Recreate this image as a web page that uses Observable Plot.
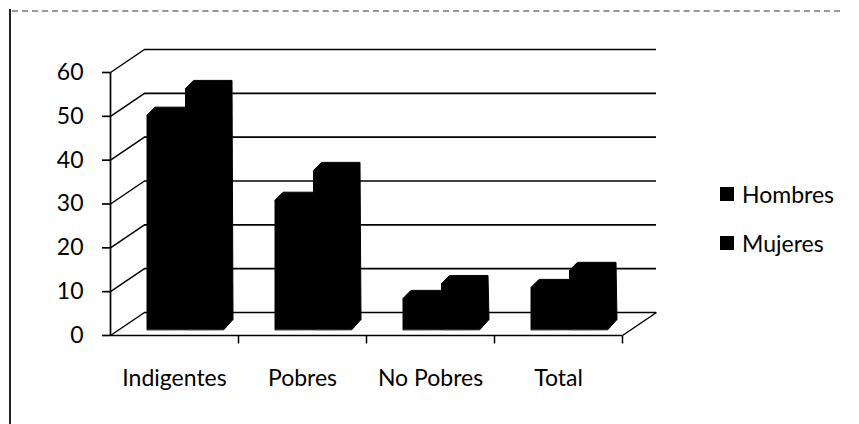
<!DOCTYPE html>
<html>
<head>
<meta charset="utf-8">
<script src="https://cdn.jsdelivr.net/npm/d3@7"></script>
<script src="https://cdn.jsdelivr.net/npm/@observablehq/plot@0.6"></script>
<style>
  body { margin: 0; background: #fff; }
  #wrap { position: relative; width: 859px; height: 424px; overflow: hidden; font-family: Lato, "Open Sans", sans-serif; }
  #leftBorder { position: absolute; left: 9px; top: 9px; width: 2px; height: 415px; background: #222; }
  #topBorder { position: absolute; left: 12px; top: 10px; width: 828px; height: 0; border-top: 2px dashed #444; opacity: 0.55; }
  .leg { position: absolute; left: 720px; display: flex; align-items: center; font-size: 23px; color: #000; }
  .leg span.sw { display: inline-block; width: 14px; height: 14px; background: #000; margin-right: 8px; }
</style>
</head>
<body>
<div id="wrap">
  <div id="chart"></div>
  <div id="leftBorder"></div>
  <div id="topBorder"></div>
  <div id="legend"></div>
</div>
<script>
// ---- data ----
const categories = ["Indigentes", "Pobres", "No Pobres", "Total"];
const seriesNames = ["Hombres", "Mujeres"];
const hombres = [48.9, 29.5, 7.1, 9.6];
const mujeres = [55.0, 36.3, 10.5, 13.5];
const yTicks = [0, 10, 20, 30, 40, 50, 60];

// ---- geometry (pixels converted into data units) ----
const catPx = 128;                 // pixels per category
const unitPx = (335 - 72) / 60;    // pixels per value unit
const ux = px => px / catPx;
const uy = px => px / unitPx;

const backDX = ux(34), backDY = uy(23);       // back wall offset
const barLeft = ux(36.5), barW = ux(38.5);     // bar front face
const barBase = uy(6);                         // bar front bottom above floor front
const topDX = ux(8), topDY = uy(8);            // top face depth
const botDX = ux(9), botDY = uy(10);           // bottom-right depth
const tickLen = uy(8);

const bars = [];
[hombres, mujeres].forEach((vals, s) => {
  vals.forEach((v, i) => {
    const x0 = i + barLeft + s * barW;
    const x1 = x0 + barW;
    const b = barBase, t = barBase + v;
    const id = seriesNames[s] + "-" + categories[i];
    [[x0, b], [x0, t], [x0 + topDX, t + topDY], [x1 + topDX, t + topDY],
     [x1 + botDX, b + botDY], [x1, b]].forEach(([x, y]) => bars.push({id, x, y}));
  });
});

const plot = Plot.plot({
  width: 859,
  height: 424,
  marginLeft: 110,
  marginRight: 237,
  marginTop: 72,
  marginBottom: 89,
  style: { fontFamily: "Lato, 'Open Sans', sans-serif", fontSize: "23px", color: "#000", background: "#fff" },
  x: { type: "linear", domain: [0, 4], axis: null },
  y: { type: "linear", domain: [0, 60], axis: null },
  marks: [
    // back wall gridlines
    Plot.ruleY(yTicks, { y: d => d + backDY, x1: backDX, x2: 4 + backDX, stroke: "#000", strokeWidth: 1.7 }),
    // side wall diagonals
    Plot.link(yTicks, { x1: 0, y1: d => d, x2: backDX, y2: d => d + backDY, stroke: "#000", strokeWidth: 1.5 }),
    // floor right edge
    Plot.link([4], { x1: d => d, y1: 0, x2: d => d + backDX, y2: backDY, stroke: "#000", strokeWidth: 1.5 }),
    // front floor edge and vertical axis
    Plot.ruleY([0], { x1: 0, x2: 4, stroke: "#000", strokeWidth: 1.7 }),
    Plot.ruleX([0], { y1: 0, y2: 60, stroke: "#000", strokeWidth: 1.7 }),
    // y axis ticks and labels
    Plot.axisY(yTicks, { label: null, tickSize: 8, tickPadding: 19, fontSize: 23, stroke: "#000", strokeWidth: 1.7, fill: "#000" }),
    // category ticks
    Plot.link([1, 2, 3, 4], { x1: d => d, x2: d => d, y1: 0, y2: -tickLen, stroke: "#000", strokeWidth: 1.5 }),
    // bars
    Plot.line(bars, { x: "x", y: "y", z: "id", curve: "linear-closed", fill: "#000", stroke: "#000", strokeWidth: 1 }),
    // category labels
    Plot.text(categories, { x: (d, i) => i + 0.5, y: 0, dy: 43, text: d => d, fontSize: 23, fill: "#000" })
  ]
});
document.getElementById("chart").appendChild(plot);

// legend
const legend = document.getElementById("legend");
seriesNames.forEach((name, i) => {
  const row = document.createElement("div");
  row.className = "leg";
  row.style.top = (180 + i * 49) + "px";
  row.innerHTML = '<span class="sw"></span>' + name;
  legend.appendChild(row);
});
</script>
</body>
</html>
